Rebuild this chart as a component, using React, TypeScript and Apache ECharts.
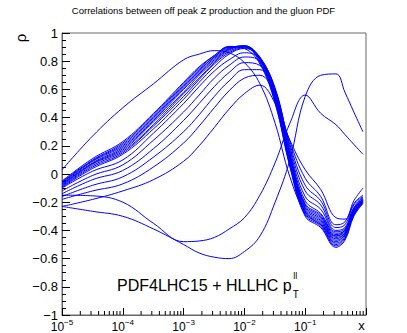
import React, { useEffect, useRef } from 'react';
import * as echarts from 'echarts';

// x positions (log scale) where curve values were read
const xGrid = [1e-5, 3.2e-5, 1e-4, 3.2e-4, 1e-3, 1.8e-3, 3.2e-3, 5.6e-3, 1e-2, 1.8e-2, 3.2e-2, 5.6e-2, 0.1, 0.18, 0.32, 0.45, 0.63, 0.89];

// leading curve (starts highest at small x)
const curveT = [0.03, 0.27, 0.47, 0.64, 0.81, 0.85, 0.875, 0.86, 0.79, 0.64, 0.36, -0.02, -0.27, -0.36, -0.44, -0.40, -0.28, -0.19];

// dense bunch
const curveD0 = [-0.05, 0.11, 0.23, 0.43, 0.65, 0.76, 0.84, 0.905, 0.89, 0.78, 0.50, 0.05, -0.30, -0.38, -0.52, -0.47, -0.30, -0.21];
const curveD1 = [-0.055, 0.10, 0.22, 0.42, 0.64, 0.75, 0.84, 0.90, 0.90, 0.79, 0.51, 0.06, -0.29, -0.37, -0.51, -0.46, -0.29, -0.205];
const curveD2 = [-0.06, 0.095, 0.21, 0.41, 0.63, 0.74, 0.83, 0.90, 0.905, 0.80, 0.52, 0.07, -0.28, -0.36, -0.50, -0.45, -0.29, -0.20];
const curveD3 = [-0.065, 0.09, 0.20, 0.40, 0.62, 0.73, 0.83, 0.895, 0.905, 0.81, 0.53, 0.08, -0.27, -0.35, -0.49, -0.44, -0.28, -0.20];
const curveD4 = [-0.07, 0.08, 0.19, 0.39, 0.61, 0.72, 0.82, 0.89, 0.91, 0.815, 0.54, 0.09, -0.26, -0.34, -0.48, -0.43, -0.28, -0.195];
const curveD5 = [-0.075, 0.075, 0.18, 0.38, 0.60, 0.71, 0.81, 0.885, 0.91, 0.82, 0.55, 0.10, -0.25, -0.33, -0.47, -0.43, -0.27, -0.19];
const curveD6 = [-0.08, 0.07, 0.17, 0.37, 0.58, 0.70, 0.80, 0.88, 0.905, 0.82, 0.56, 0.11, -0.24, -0.32, -0.46, -0.42, -0.27, -0.19];
const curveD7 = [-0.085, 0.06, 0.16, 0.35, 0.57, 0.68, 0.79, 0.87, 0.90, 0.825, 0.57, 0.12, -0.23, -0.31, -0.45, -0.42, -0.26, -0.185];
const curveD8 = [-0.09, 0.05, 0.15, 0.34, 0.55, 0.67, 0.78, 0.86, 0.895, 0.825, 0.58, 0.13, -0.22, -0.30, -0.44, -0.41, -0.26, -0.18];
const curveD9 = [-0.095, 0.04, 0.14, 0.32, 0.53, 0.65, 0.76, 0.85, 0.89, 0.83, 0.59, 0.14, -0.21, -0.29, -0.43, -0.40, -0.25, -0.18];

// spread curves below the bunch
const curveE0 = [-0.10, 0.02, 0.10, 0.29, 0.50, 0.62, 0.73, 0.81, 0.86, 0.82, 0.60, 0.15, -0.19, -0.28, -0.42, -0.40, -0.25, -0.175];
const curveE1 = [-0.12, -0.01, 0.065, 0.24, 0.44, 0.56, 0.68, 0.77, 0.83, 0.80, 0.61, 0.17, -0.16, -0.25, -0.41, -0.39, -0.24, -0.17];
const curveE2 = [-0.14, -0.04, 0.025, 0.18, 0.38, 0.50, 0.62, 0.72, 0.79, 0.77, 0.60, 0.19, -0.12, -0.22, -0.40, -0.38, -0.24, -0.165];
const curveE3 = [-0.16, -0.08, -0.02, 0.12, 0.30, 0.42, 0.55, 0.66, 0.74, 0.74, 0.58, 0.21, -0.08, -0.19, -0.38, -0.36, -0.22, -0.16];
const curveE4 = [-0.18, -0.12, -0.07, 0.05, 0.22, 0.34, 0.47, 0.59, 0.68, 0.70, 0.55, 0.23, -0.03, -0.16, -0.36, -0.34, -0.21, -0.15];
const curveS2 = [-0.23, -0.18, -0.12, -0.04, 0.09, 0.20, 0.33, 0.46, 0.57, 0.63, 0.50, 0.24, 0.03, -0.11, -0.31, -0.32, -0.19, -0.10];

// curves that dip and then rise at large x
const curveS1 = [-0.15, -0.155, -0.20, -0.35, -0.48, -0.475, -0.45, -0.39, -0.31, -0.15, 0.08, 0.36, 0.56, 0.43, 0.35, 0.28, 0.21, 0.14];
const curveS3 = [-0.23, -0.265, -0.30, -0.39, -0.50, -0.56, -0.59, -0.60, -0.55, -0.44, -0.20, 0.10, 0.55, 0.70, 0.71, 0.58, 0.44, 0.30];

const allCurves = [curveT, curveD0, curveD1, curveD2, curveD3, curveD4, curveD5, curveD6, curveD7, curveD8, curveD9,
  curveE0, curveE1, curveE2, curveE3, curveE4, curveS2, curveS1, curveS3];

const minorMultipliers = [2, 3, 4, 5, 6, 7, 8, 9];
const decades = [1e-5, 1e-4, 1e-3, 1e-2, 1e-1];

const titleText = 'Correlations between off peak Z production and the gluon PDF';
const labelMain = 'PDF4LHC15 + HLLHC p';
const labelSub = 'T';
const labelSup = 'll';

const FONT = '"Liberation Sans", Arial, Helvetica, sans-serif';

export default function App() {
  const ref = useRef<HTMLDivElement>(null);
  useEffect(() => {
    if (!ref.current) return;
    const chart = echarts.init(ref.current, null, { renderer: 'svg' });

    const minorTicks: number[][] = [];
    decades.forEach((d) => minorMultipliers.forEach((m) => minorTicks.push([d * m, -1])));

    const mainFont = 16;
    let mainW = 172;
    try {
      const ctx = document.createElement('canvas').getContext('2d');
      if (ctx) {
        ctx.font = mainFont + 'px "Liberation Sans"';
        mainW = ctx.measureText(labelMain).width;
      }
    } catch (e) {}
    const mainX = 117;

    const series: any[] = allCurves.map((c) => ({
      type: 'line',
      data: xGrid.map((x, i) => [x, c[i]]),
      showSymbol: false,
      smooth: 0.4,
      silent: true,
      lineStyle: { color: '#0000ff', width: 1 },
      itemStyle: { color: '#0000ff' },
      z: 2,
    }));

    series.push({
      type: 'custom',
      data: minorTicks,
      silent: true,
      z: 3,
      renderItem: (params: any, api: any) => {
        const p = api.coord([api.value(0), -1]);
        return {
          type: 'line',
          shape: { x1: p[0], y1: p[1], x2: p[0], y2: p[1] - 4 },
          style: { stroke: '#000', lineWidth: 1 },
        };
      },
    });

    chart.setOption({
      animation: false,
      grid: { left: 62, right: 41, top: 33, bottom: 18, show: true, borderColor: '#666', borderWidth: 1, backgroundColor: 'transparent' },
      xAxis: {
        type: 'log',
        logBase: 10,
        min: 1e-5,
        max: 1,
        axisLine: { show: true, onZero: false, lineStyle: { color: '#666', width: 1 } },
        axisTick: { show: true, inside: true, length: 7, lineStyle: { color: '#000' } },
        splitLine: { show: false },
        axisLabel: {
          margin: 3,
          color: '#000',
          formatter: (v: number) => {
            const e = Math.round(Math.log10(v));
            if (e >= 0) return '';
            return `{b|10}{s|\u2212${-e}}`;
          },
          rich: {
            b: { fontSize: 12, fontFamily: FONT, color: '#000', lineHeight: 18 },
            s: { fontSize: 8, fontFamily: FONT, color: '#000', verticalAlign: 'top', lineHeight: 9 },
          },
        },
      },
      yAxis: {
        type: 'value',
        min: -1,
        max: 1,
        interval: 0.2,
        axisLine: { show: true, onZero: false, lineStyle: { color: '#666', width: 1 } },
        axisTick: { show: true, inside: true, length: 8, lineStyle: { color: '#000' } },
        minorTick: { show: true, splitNumber: 4, length: 4, lineStyle: { color: '#000' } },
        splitLine: { show: false },
        axisLabel: {
          margin: 4,
          fontSize: 13,
          fontFamily: FONT,
          color: '#000',
          formatter: (v: number) => {
            const r = Math.round(v * 10) / 10;
            let s = Number.isInteger(r) ? String(r) : r.toFixed(1);
            if (r === 0) s = '0';
            return s.replace('-', '\u2212');
          },
        },
      },
      graphic: [
        { type: 'text', x: 203.5, y: 10, style: { text: titleText, fontSize: 9.5, fontFamily: FONT, fill: '#000', align: 'center', verticalAlign: 'middle' } },
        { type: 'text', x: 20, y: 38, rotation: Math.PI / 2, style: { text: '\u03c1', fontSize: 15, fontFamily: FONT, fill: '#000', align: 'center', verticalAlign: 'middle' } },
        { type: 'text', x: 361.5, y: 325.5, style: { text: 'x', fontSize: 13, fontFamily: FONT, fill: '#000', align: 'center', verticalAlign: 'middle' } },
        { type: 'text', x: mainX, y: 285.5, style: { text: labelMain, fontSize: mainFont, fontFamily: FONT, fill: '#000', align: 'left', verticalAlign: 'middle' } },
        { type: 'text', x: mainX + mainW + 1, y: 294.5, style: { text: labelSub, fontSize: 10, fontFamily: FONT, fill: '#000', align: 'left', verticalAlign: 'middle' } },
        { type: 'text', x: mainX + mainW + 1.5, y: 276, style: { text: labelSup, fontSize: 9, fontFamily: FONT, fill: '#000', align: 'left', verticalAlign: 'middle' } },
      ],
      series,
    });
    return () => chart.dispose();
  }, []);
  return <div ref={ref} style={{ position: 'fixed', left: 0, top: 0, width: 407, height: 333, background: '#fff' }} />;
}
